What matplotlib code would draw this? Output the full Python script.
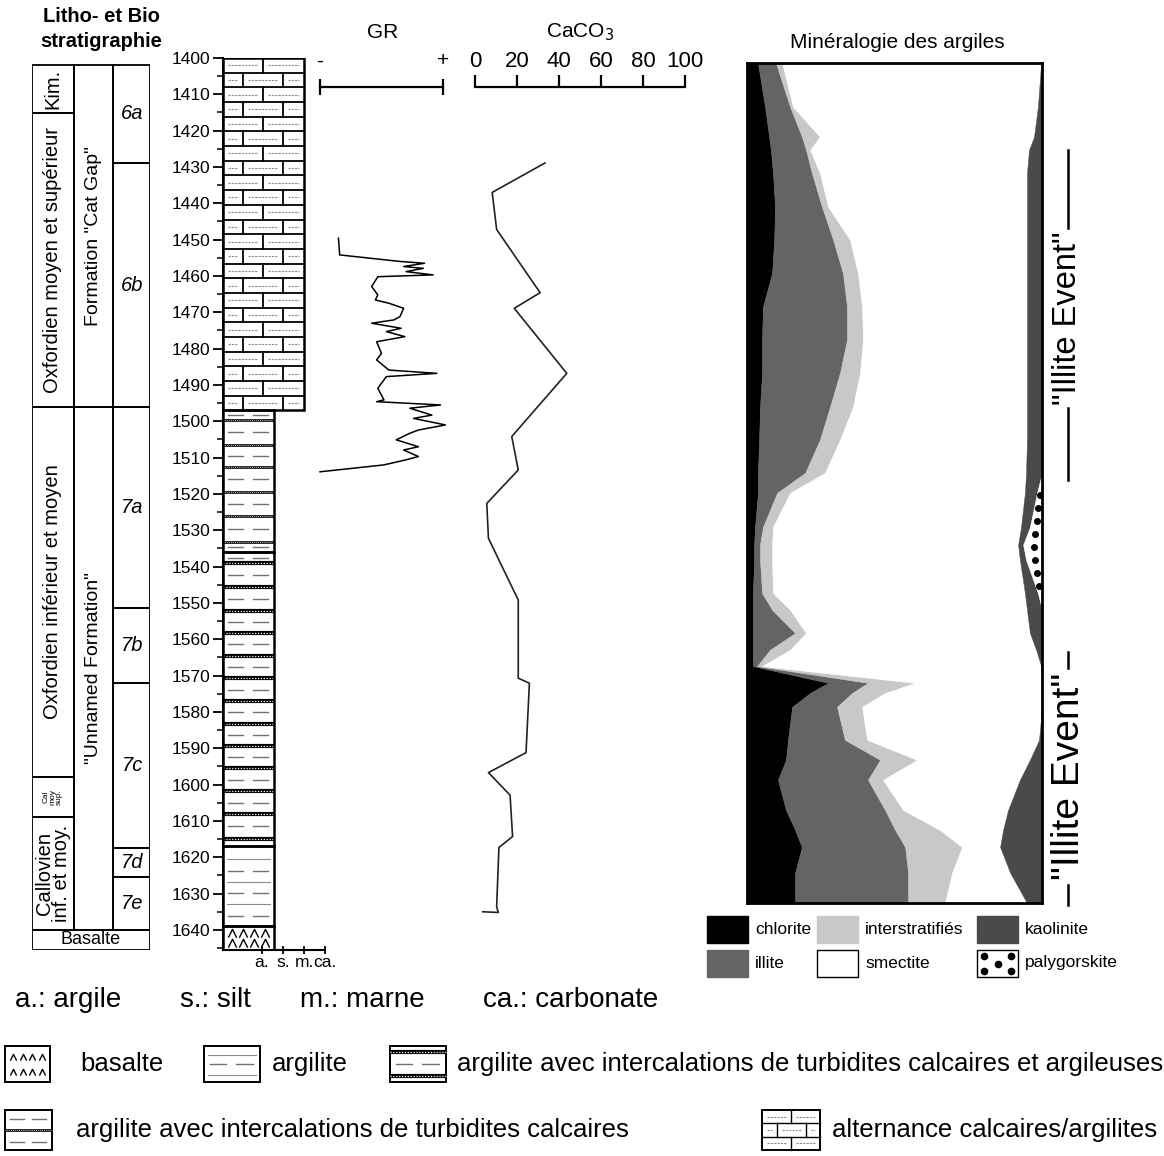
import numpy as np
import matplotlib
matplotlib.use("Agg")
import matplotlib.pyplot as plt
from matplotlib.patches import Rectangle
from matplotlib.path import Path

plt.rcParams['font.family'] = ['Liberation Sans', 'DejaVu Sans']

# ---------------- data ----------------
depth_ticks = list(range(1400, 1641, 10))

strat_col1_labels = ['Kim.', 'Oxfordien moyen et supérieur', 'Oxfordien inférieur et moyen',
                     'Cal\nmoy\nsup.', 'Callovien\ninf. et moy.']
strat_col1_bounds = [1401.9, 1415.1, 1496.1, 1597.9, 1608.9, 1640.0]
strat_col2_labels = ['Formation "Cat Gap"', '"Unnamed Formation"']
strat_col2_bounds = [1401.9, 1496.1, 1640.0]
strat_col3_labels = ['6a', '6b', '7a', '7b', '7c', '7d', '7e']
strat_col3_bounds = [1401.9, 1428.9, 1496.1, 1551.4, 1572.0, 1617.4, 1625.4, 1640.0]
basement_label = 'Basalte'
basement_bounds = [1640.0, 1645.5]

litho_top = [1400.0, 1497.0, 1536.0, 1617.0, 1639.0]
litho_base = [1497.0, 1536.0, 1617.0, 1639.0, 1645.5]
litho_type = ['alternance', 'turb_calc', 'turb_calc_arg', 'argilite', 'basalte']
litho_grain = [81, 51, 51, 51, 51]
grain_ticks = [39, 60, 81, 102]
grain_labels = ['a.', 's.', 'm.', 'ca.']
turbidite_depths = [1499.7, 1506.4, 1512.6, 1519.4, 1526.2, 1533.1, 1539.0, 1545.6, 1552.1,
                    1558.3, 1564.5, 1570.7, 1577.0, 1583.3, 1589.5, 1595.5, 1601.8, 1608.1, 1614.9]

gr_depth = [1449.6, 1454.2, 1456.0, 1456.5, 1457.4, 1457.9, 1458.8, 1459.7, 1460.2, 1462.9,
            1465.2, 1466.6, 1467.5, 1468.9, 1471.2, 1472.1, 1473.0, 1474.4, 1475.3, 1476.7,
            1478.1, 1481.3, 1483.1, 1485.9, 1486.8, 1487.7, 1490.9, 1494.1, 1494.6, 1495.5,
            1496.4, 1498.3, 1499.2, 1501.0, 1502.4, 1503.3, 1505.1, 1507.0, 1507.9, 1509.7,
            1510.6, 1512.0, 1513.9]
gr_value = [15, 16, 65, 85, 68, 84, 70, 92, 47, 42,
            47, 45, 56, 68, 65, 60, 42, 66, 54, 69,
            46, 50, 46, 56, 95, 54, 47, 52, 46, 98,
            73, 91, 76, 102, 80, 73, 62, 80, 68, 80,
            70, 52, 0]

caco3_depth = [1428.9, 1437.0, 1447.2, 1464.6, 1468.9, 1486.8, 1504.2, 1513.4, 1522.6, 1532.2,
               1549.2, 1570.7, 1572.1, 1591.2, 1596.7, 1602.9, 1614.3, 1617.3, 1633.6, 1635.2, 1635.0]
caco3_value = [33.3, 8.2, 10.3, 31.0, 18.7, 43.7, 17.5, 20.6, 5.6, 6.4,
               20.6, 20.6, 25.9, 24.3, 6.4, 16.7, 17.9, 11.4, 10.3, 11.1, 3.7]
caco3_ticks = [0, 20, 40, 60, 80, 100]

clay_depth = [1401.4, 1413.5, 1421.7, 1425.3, 1431.7, 1441.0, 1450.1, 1459.2, 1468.5, 1477.6,
              1486.7, 1496.1, 1505.1, 1514.2, 1519.7, 1529.1, 1534.0, 1538.2, 1547.3, 1551.9,
              1558.3, 1562.9, 1567.4, 1572.0, 1574.8, 1578.6, 1587.7, 1593.2, 1598.7, 1607.0,
              1612.5, 1617.2, 1624.3, 1632.6]
chlorite = [3.7, 6.1, 7.5, 8.1, 8.8, 9.5, 9.2, 8.5, 5.4, 5.1,
            5.1, 4.4, 4.1, 3.7, 3.7, 2.7, 2.4, 2.4, 2.0, 2.0,
            2.0, 2.0, 2.0, 27.5, 21.4, 15.3, 13.9, 13.2, 10.5, 13.2,
            16.3, 18.6, 16.3, 16.3]
illite = [6.1, 8.5, 11.1, 11.9, 13.2, 15.9, 20.0, 24.0, 28.5, 28.8,
          26.4, 23.7, 20.6, 16.0, 6.5, 2.7, 2.0, 2.0, 3.1, 6.5,
          14.3, 5.8, 1.4, 13.5, 14.2, 15.2, 19.3, 31.9, 30.5, 33.6,
          33.9, 35.0, 38.3, 38.3]
interstratifies = [2.1, 1.0, 6.1, 1.4, 2.7, 2.1, 5.7, 5.1, 5.1, 5.4,
                   6.8, 7.8, 6.8, 6.7, 4.4, 3.4, 4.1, 4.1, 3.7, 6.1,
                   3.7, 6.8, 1.7, 15.9, 11.2, 8.5, 7.5, 12.5, 5.1, 6.1,
                   15.2, 19.3, 14.9, 12.5]
smectite = [87.8, 83.0, 72.6, 74.2, 70.2, 67.4, 60.0, 57.3, 55.9, 55.6,
            56.6, 59.0, 63.4, 68.2, 79.6, 84.1, 83.4, 84.0, 85.4, 80.3,
            75.9, 83.4, 94.6, 43.1, 53.2, 61.0, 58.3, 38.3, 46.4, 35.6,
            21.4, 12.9, 19.7, 27.8]
kaolinite = [0.3, 1.4, 2.7, 4.4, 5.1, 5.1, 5.1, 5.1, 5.1, 5.1,
             5.1, 5.1, 5.1, 5.4, 4.1, 3.0, 1.7, 2.1, 4.4, 5.1,
             4.1, 2.0, 0.3, 0.0, 0.0, 0.0, 1.0, 4.1, 7.5, 11.5,
             13.2, 14.2, 10.8, 5.1]
palygorskite = [0, 0, 0, 0, 0, 0, 0, 0, 0, 0,
                0, 0, 0, 0, 1.7, 4.1, 6.4, 5.4, 1.4, 0,
                0, 0, 0, 0, 0, 0, 0, 0, 0, 0,
                0, 0, 0, 0]
clay_names = ['chlorite', 'illite', 'interstratifiés', 'smectite', 'kaolinite', 'palygorskite']
clay_colors = ['#000000', '#646464', '#c8c8c8', '#ffffff', '#4a4a4a', '#ffffff']

# ---------------- figure ----------------
W, H = 1164, 1156
fig = plt.figure(figsize=(W / 100, H / 100), dpi=100)
PXM = 3.633          # pixels per metre on the depth scale
D_TOP, D_BOT = 1400.0, 1645.5
Y_TOP = 58


def px_axes(l, t, w, h):
    a = fig.add_axes([l / W, 1 - (t + h) / H, w / W, h / H])
    a.set_facecolor('none')
    return a


def depth_axes(l, w):
    a = px_axes(l, Y_TOP, w, (D_BOT - D_TOP) * PXM)
    a.set_ylim(D_BOT, D_TOP)
    return a


ov = px_axes(0, 0, W, H)
ov.set_xlim(0, W)
ov.set_ylim(H, 0)
ov.axis('off')

# ---------- pattern helpers (y grows downward, sy = px per y unit) ----------
chev = Path([(-1, -1), (0, 1), (1, -1)], [Path.MOVETO, Path.LINETO, Path.LINETO])


def p_bricks(ax, x0, x1, ya, yb, sy, row=14.7, bw=40, lw=1.3):
    n = max(1, int(round((yb - ya) * sy / row)))
    h = (yb - ya) / n
    for k in range(n):
        t = ya + k * h
        b = t + h
        if k > 0:
            ax.plot([x0, x1], [t, t], color='k', lw=lw)
        start = bw if k % 2 == 0 else bw / 2
        edges = [x0] + [e for e in np.arange(x0 + start, x1 - 3, bw)] + [x1]
        for e in edges[1:-1]:
            ax.plot([e, e], [t, b], color='k', lw=lw)
        for a_, c_ in zip(edges[:-1], edges[1:]):
            if c_ - a_ > 12:
                ax.plot([a_ + 5, c_ - 5], [(t + b) / 2] * 2, color='0.55', lw=0.8,
                        ls=(0, (2, 1)))


def p_dashpair(ax, x0, x1, y, lw=1.0, color='0.45'):
    w = x1 - x0
    ax.plot([x0 + 0.1 * w, x0 + 0.4 * w], [y, y], color=color, lw=lw)
    ax.plot([x0 + 0.58 * w, x0 + 0.88 * w], [y, y], color=color, lw=lw)


def p_line(ax, x0, x1, y, lw=0.8):
    w = x1 - x0
    ax.plot([x0 + 0.08 * w, x0 + 0.92 * w], [y, y], color='0.55', lw=lw)


def p_band(ax, x0, x1, y, thick):
    ax.plot([x0, x1], [y, y], color='k', lw=3.0 if thick else 1.9, solid_capstyle='butt')
    ax.plot([x0, x1], [y, y], color='white', lw=0.9 if thick else 0.6, ls=(0, (1, 1.3)),
            solid_capstyle='butt')


def p_carets(ax, x0, x1, ya, yb, ms=7):
    w = x1 - x0
    h = yb - ya
    for r in (0.3, 0.72):
        for c in (0.17, 0.39, 0.61, 0.83):
            ax.plot([x0 + c * w], [ya + r * h], marker=chev, ms=ms, mfc='none', mec='k',
                    mew=1.0, ls='none')


# ---------------- strat column ----------------
sax = depth_axes(32, 118)
sax.set_xlim(0, 118)
sax.axis('off')
cols = [(0, 42), (42, 81), (81, 118)]
lw_box = 1.3
for (xa, xb), labels, bounds, kind in zip(
        cols, [strat_col1_labels, strat_col2_labels, strat_col3_labels],
        [strat_col1_bounds, strat_col2_bounds, strat_col3_bounds], [1, 2, 3]):
    for i, lab in enumerate(labels):
        t, b = bounds[i], bounds[i + 1]
        sax.add_patch(Rectangle((xa, t), xb - xa, b - t, fill=False, lw=lw_box, ec='k'))
        yc = (t + b) / 2
        xc = (xa + xb) / 2
        if kind == 3:
            sax.text(xc + 1, yc, lab, style='italic', fontsize=14.5, ha='center', va='center')
        elif lab.startswith('Cal\n'):
            sax.text(xc, yc, lab, rotation=90, fontsize=6, ha='center', va='center',
                     linespacing=0.9)
        elif kind == 2:
            sax.text(xc, yc, lab, rotation=90, fontsize=14, ha='center', va='center')
        else:
            sax.text(xc, yc, lab, rotation=90, fontsize=14.5, ha='center', va='center',
                     linespacing=0.9)
sax.add_patch(Rectangle((0, basement_bounds[0]), 118, basement_bounds[1] - basement_bounds[0],
                        fill=False, lw=lw_box, ec='k'))
sax.text(59, sum(basement_bounds) / 2, basement_label, fontsize=13, ha='center', va='center')

ov.text(101, 29, 'Litho- et Bio\nstratigraphie', ha='center', va='center', weight='bold',
        fontsize=14.5, linespacing=1.35)

# ---------------- lithology column ----------------
lax = depth_axes(223, 102)
lax.set_xlim(0, 102)
for s in ('top', 'right'):
    lax.spines[s].set_visible(False)
lax.spines['left'].set_linewidth(1.5)
lax.spines['bottom'].set_linewidth(1.5)
lax.set_yticks(depth_ticks)
lax.set_yticks(np.arange(1405, 1646, 10), minor=True)
lax.tick_params(axis='y', which='major', direction='out', length=7, width=1.3, labelsize=12.5,
                pad=2)
lax.tick_params(axis='y', which='minor', direction='out', length=4, width=1.1)
lax.set_xticks(grain_ticks)
lax.set_xticklabels(grain_labels)
lax.tick_params(axis='x', direction='inout', length=6, width=1.3, labelsize=12.5, pad=1)

for top, base, typ, w in zip(litho_top, litho_base, litho_type, litho_grain):
    if typ == 'alternance':
        p_bricks(lax, 0, w, top, base, PXM)
    elif typ in ('turb_calc', 'turb_calc_arg'):
        thick = typ == 'turb_calc_arg'
        bands = [d for d in turbidite_depths if top <= d < base]
        edges = [top] + bands + [base]
        for a_, b_ in zip(edges[:-1], edges[1:]):
            if b_ - a_ > 2.5:
                p_dashpair(lax, 0, w, (a_ + b_) / 2)
        for d in bands:
            p_band(lax, 0, w, d, thick)
    elif typ == 'argilite':
        ys = np.arange(top + 3.6, base - 1.5, 3.1)
        for i, yv in enumerate(ys):
            if i % 2 == 0:
                p_line(lax, 0, w, yv)
            else:
                p_dashpair(lax, 0, w, yv)
    elif typ == 'basalte':
        p_carets(lax, 0, w, top, base, ms=6)
    lax.add_patch(Rectangle((0, top), w, base - top, fill=False, lw=1.8, ec='k', zorder=5))

# ---------------- GR ----------------
gax = depth_axes(320, 123)
gax.set_xlim(0, 100)
for s in ('left', 'right', 'bottom'):
    gax.spines[s].set_visible(False)
gax.spines['top'].set_position(('data', 1408.0))
gax.spines['top'].set_linewidth(1.6)
gax.set_yticks([])
gax.xaxis.set_ticks_position('top')
gax.set_xticks([0, 100])
gax.set_xticklabels(['-', '+'])
gax.tick_params(axis='x', direction='inout', length=12, width=1.6, labelsize=15, pad=6)
gax.plot(gr_value, gr_depth, color='k', lw=1.1, clip_on=False)
ov.text(383, 32, 'GR', ha='center', va='center', fontsize=15)

# ---------------- CaCO3 ----------------
cax = depth_axes(475, 210)
cax.set_xlim(0, 100)
for s in ('left', 'right', 'bottom'):
    cax.spines[s].set_visible(False)
cax.spines['top'].set_position(('data', 1408.0))
cax.spines['top'].set_linewidth(1.6)
cax.set_yticks([])
cax.xaxis.set_ticks_position('top')
cax.set_xticks(caco3_ticks)
cax.tick_params(axis='x', direction='out', length=9, width=1.6, labelsize=16, pad=2)
cax.plot(caco3_value, caco3_depth, color='#222222', lw=1.2)
ov.text(580, 32, 'CaCO$_3$', ha='center', va='center', fontsize=15)

# ---------------- clay mineralogy ----------------
kax = px_axes(747, 63, 295, 840)
kax.set_facecolor('white')
kax.set_xlim(0, 100)
kax.set_ylim(1632.6, 1401.4)
kax.set_xticks([])
kax.set_yticks([])
for s in kax.spines.values():
    s.set_linewidth(2.0)
cum = np.zeros(len(clay_depth))
series = [chlorite, illite, interstratifies, smectite, kaolinite, palygorskite]
for vals, col in zip(series, clay_colors):
    v = np.asarray(vals, float)
    kax.fill_betweenx(clay_depth, cum, cum + v, facecolor=col, edgecolor=col, lw=0.3)
    if vals is palygorskite:
        dgrid = np.arange(clay_depth[0], clay_depth[-1], 3.6)
        left = np.interp(dgrid, clay_depth, cum)
        wid = np.interp(dgrid, clay_depth, v)
        m = wid > 1.5
        kax.scatter(left[m] + wid[m] * 0.55, dgrid[m], s=16, color='k', zorder=4)
    cum = cum + v
ov.text(897, 43, 'Minéralogie des argiles', ha='center', va='center', fontsize=15)

# clay legend
leg_pos = [(707, 916), (707, 950), (817, 916), (817, 950), (977, 916), (977, 950)]
leg_order = [0, 1, 2, 3, 4, 5]
for (lx, ly), idx in zip(leg_pos, leg_order):
    name = clay_names[idx]
    col = clay_colors[idx]
    ec = 'k' if col == '#ffffff' else col
    ov.add_patch(Rectangle((lx, ly), 41, 27, facecolor=col, edgecolor=ec, lw=1.0))
    if name == 'palygorskite':
        for dx, dy in [(7, 6), (34, 6), (20.5, 13.5), (7, 21), (34, 21)]:
            ov.plot(lx + dx, ly + dy, 'o', color='k', ms=4.5)
    ov.text(lx + 48, ly + 13, name, ha='left', va='center', fontsize=12.5)

# Illite event annotations
ov.text(1068, 318, '"Illite Event"', rotation=90, ha='center', va='center', fontsize=23.5)
ov.plot([1068, 1068], [150, 228], color='k', lw=1.8)
ov.plot([1068, 1068], [408, 480], color='k', lw=1.8)
ov.text(1069, 776, '"Illite Event"', rotation=90, ha='center', va='center', fontsize=28)
ov.plot([1068, 1068], [652, 668], color='k', lw=1.8)
ov.plot([1068, 1068], [885, 905], color='k', lw=1.8)

# ---------------- bottom legends ----------------
abbrev = [(15, 'a.: argile'), (180, 's.: silt'), (300, 'm.: marne'), (483, 'ca.: carbonate')]
for x, t in abbrev:
    ov.text(x, 1000, t, ha='left', va='center', fontsize=20)


def legend_box(x0, y0, w, h, kind):
    x1, y1 = x0 + w, y0 + h
    if kind == 'basalte':
        p_carets(ov, x0, x1, y0, y1, ms=4.5)
    elif kind == 'argilite':
        p_line(ov, x0, x1, y0 + 0.25 * h)
        p_dashpair(ov, x0, x1, y0 + 0.5 * h)
        p_line(ov, x0, x1, y0 + 0.8 * h)
    elif kind == 'turb_calc_arg':
        p_band(ov, x0, x1, y0 + 0.16 * h, True)
        p_dashpair(ov, x0, x1, y0 + 0.5 * h)
        p_band(ov, x0, x1, y0 + 0.84 * h, True)
    elif kind == 'turb_calc':
        p_dashpair(ov, x0, x1, y0 + 0.22 * h)
        p_band(ov, x0, x1, y0 + 0.5 * h, False)
        p_dashpair(ov, x0, x1, y0 + 0.8 * h)
    elif kind == 'alternance':
        p_bricks(ov, x0, x1, y0, y1, 1.0, row=h / 3, bw=w / 2, lw=1.0)
    ov.add_patch(Rectangle((x0, y0), w, h, fill=False, ec='k', lw=1.4))


legend_items = [
    (5, 1046, 45, 36, 'basalte', 80, 'basalte'),
    (204, 1046, 56, 36, 'argilite', 272, 'argilite'),
    (390, 1046, 56, 36, 'turb_calc_arg', 457,
     'argilite avec intercalations de turbidites calcaires et argileuses'),
    (5, 1110, 47, 40, 'turb_calc', 76, 'argilite avec intercalations de turbidites calcaires'),
    (762, 1110, 58, 40, 'alternance', 832, 'alternance calcaires/argilites'),
]
for x0, y0, w, h, kind, tx, txt in legend_items:
    legend_box(x0, y0, w, h, kind)
    ov.text(tx, y0 + h / 2, txt, ha='left', va='center', fontsize=18.5)

fig.savefig('out.png', dpi=100, facecolor='white')
